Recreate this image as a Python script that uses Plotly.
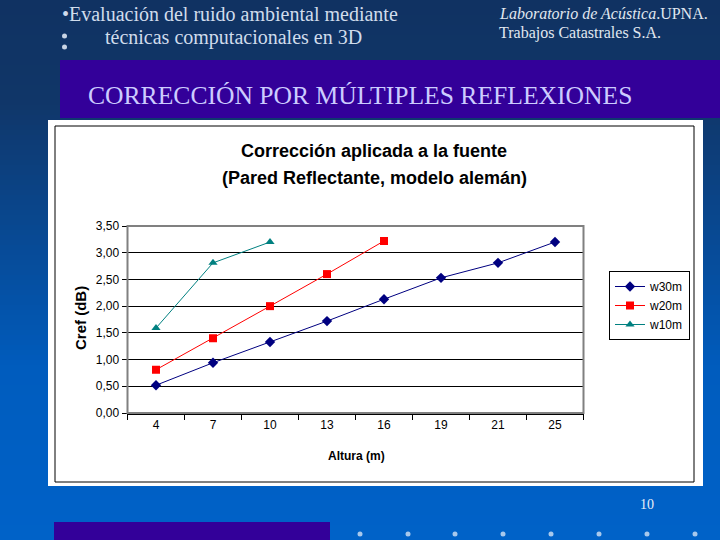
import plotly.graph_objects as go

W, H = 720, 540

# ---- data ----
alturas = ["4", "7", "10", "13", "16", "19", "21", "25"]
w30m = [0.52, 0.94, 1.33, 1.72, 2.13, 2.53, 2.81, 3.20]
w20m = [0.81, 1.40, 2.00, 2.60, 3.22]
w10m = [1.59, 2.81, 3.20]
y_ticks = [0, 0.5, 1.0, 1.5, 2.0, 2.5, 3.0, 3.5]

CHART_FONT = "Liberation Sans, Arial, sans-serif"
SERIF = "Liberation Serif, Times New Roman, serif"


def px(x):
    return x / W


def py(y):
    return min(1.0, max(0.0, 1 - y / H))


fig = go.Figure()

fig.add_trace(go.Scatter(x=alturas, y=w30m, name="w30m", mode="lines+markers",
                         line=dict(color="#000080", width=1),
                         marker=dict(symbol="diamond", size=8, color="#000080")))
fig.add_trace(go.Scatter(x=alturas[:len(w20m)], y=w20m, name="w20m", mode="lines+markers",
                         line=dict(color="#ff0000", width=1),
                         marker=dict(symbol="square", size=8, color="#ff0000")))
fig.add_trace(go.Scatter(x=alturas[:len(w10m)], y=w10m, name="w10m", mode="lines+markers",
                         line=dict(color="#008080", width=1),
                         marker=dict(symbol="triangle-up", size=8, color="#008080")))

shapes = []
# background gradient
stops = [(0, (16, 50, 98)), (100, (16, 54, 104)), (370, (0, 92, 190)), (540, (0, 98, 200))]


def col_at(y):
    for (y0, c0), (y1, c1) in zip(stops[:-1], stops[1:]):
        if y0 <= y <= y1:
            t = (y - y0) / (y1 - y0)
            return "rgb(%d,%d,%d)" % tuple(round(a + (b - a) * t) for a, b in zip(c0, c1))
    return "rgb(0,98,200)"


step = 5
for y in range(0, H, step):
    shapes.append(dict(type="rect", xref="paper", yref="paper", layer="below",
                       x0=0, x1=1, y0=py(y + step + 0.5), y1=py(y),
                       fillcolor=col_at(y + step / 2), line=dict(width=0)))

# purple banner
shapes.append(dict(type="rect", xref="paper", yref="paper", layer="below",
                   x0=px(60), x1=1, y0=py(118), y1=py(60),
                   fillcolor="#330099", line=dict(width=0)))
# bottom purple bar
shapes.append(dict(type="rect", xref="paper", yref="paper", layer="below",
                   x0=px(54), x1=px(330), y0=0, y1=py(522),
                   fillcolor="#330099", line=dict(width=0)))
# white chart box
shapes.append(dict(type="rect", xref="paper", yref="paper", layer="below",
                   x0=px(48), x1=px(703), y0=py(486), y1=py(120),
                   fillcolor="white", line=dict(width=0)))
shapes.append(dict(type="rect", xref="paper", yref="paper", layer="below",
                   x0=px(55), x1=px(694), y0=py(482), y1=py(126),
                   fillcolor="white", line=dict(color="black", width=1)))
# plot area border (gray)
shapes.append(dict(type="rect", xref="paper", yref="paper", layer="above",
                   x0=px(127.5), x1=px(583.5), y0=py(413), y1=py(226),
                   line=dict(color="#808080", width=2)))
# bottom dots
for xd in [360, 408, 455, 503, 551, 599, 647, 695]:
    shapes.append(dict(type="circle", xref="paper", yref="paper", layer="below",
                       x0=px(xd - 2.5), x1=px(xd + 2.5), y0=py(536.5), y1=py(531.5),
                       fillcolor="#a8c8ec", line=dict(width=0)))
# top bullets
for yd in [36, 47]:
    shapes.append(dict(type="circle", xref="paper", yref="paper", layer="below",
                       x0=px(62), x1=px(67), y0=py(yd + 2.5), y1=py(yd - 2.5),
                       fillcolor="#c8d4e4", line=dict(width=0)))

annotations = []


def ann(text, x, y, size, color, family, xanchor="left", yanchor="middle", **kw):
    annotations.append(dict(text=text, x=px(x), y=py(y), xref="paper", yref="paper",
                            showarrow=False, xanchor=xanchor, yanchor=yanchor,
                            font=dict(size=size, color=color, family=family), **kw))


ann("•Evaluación del ruido ambiental mediante", 60, 14, 20, "#d0dcec", SERIF)
ann("técnicas computacionales en 3D", 103, 37, 20, "#d0dcec", SERIF)
ann("<i>Laboratorio de Acústica</i>.UPNA.", 497, 14, 16, "#e0e8f0", SERIF)
ann("Trabajos Catastrales S.A.", 497, 33, 16, "#e0e8f0", SERIF)
ann("CORRECCIÓN POR MÚLTIPLES REFLEXIONES", 86, 95, 25.6, "#ccccff", SERIF)
ann("10", 647, 504, 14, "#e8eef8", SERIF, xanchor="center")

ann("<b>Corrección aplicada a la fuente</b>", 374, 151, 18, "black", CHART_FONT, xanchor="center")
ann("<b>(Pared Reflectante, modelo alemán)</b>", 374, 178, 18, "black", CHART_FONT, xanchor="center")
ann("<b>Cref (dB)</b>", 80, 318, 15, "black", CHART_FONT, xanchor="center", textangle=-90)
ann("<b>Altura (m)</b>", 356, 456, 12, "black", CHART_FONT, xanchor="center")

fig.update_layout(
    width=W, height=H,
    margin=dict(l=0, r=0, t=0, b=0, pad=0, autoexpand=False),
    paper_bgcolor="rgb(8,75,150)",
    plot_bgcolor="rgba(0,0,0,0)",
    separators=",.",
    shapes=shapes,
    annotations=annotations,
    showlegend=True,
    legend=dict(x=px(609), y=py(271), xanchor="left", yanchor="top",
                bgcolor="white", bordercolor="black", borderwidth=1,
                font=dict(size=12, color="black", family=CHART_FONT),
                tracegroupgap=2, itemwidth=30),
    xaxis=dict(domain=[px(127.5), px(583.5)], type="category",
               categoryorder="array", categoryarray=alturas,
               range=[-0.5, len(alturas) - 0.5], automargin=False,
               showgrid=False, zeroline=False,
               showline=True, linecolor="black", linewidth=2,
               ticks="outside", tickson="boundaries", ticklen=5, tickcolor="black",
               tickfont=dict(size=12, color="black", family=CHART_FONT)),
    yaxis=dict(domain=[py(413), py(226)], range=[0, 3.5], automargin=False,
               tickvals=y_ticks, tickformat=".2f",
               showgrid=True, gridcolor="black", gridwidth=1, zeroline=False,
               showline=True, linecolor="black", linewidth=1,
               ticks="outside", ticklen=5, tickcolor="black",
               tickfont=dict(size=12, color="black", family=CHART_FONT)),
)

fig.write_html("out.html")
